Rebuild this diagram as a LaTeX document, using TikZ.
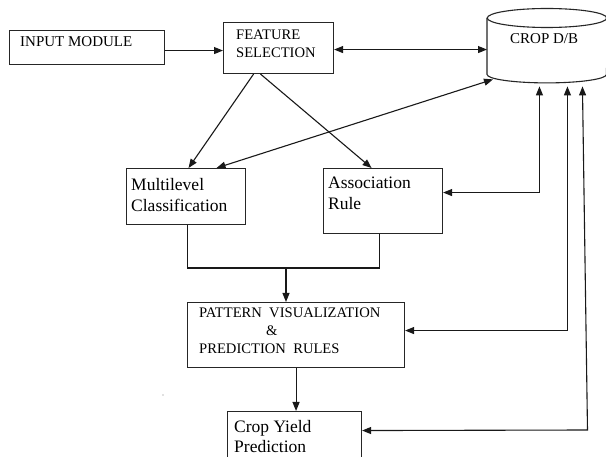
\documentclass[tikz,border=0pt]{standalone}
\usepackage{fontspec}
\setmainfont{Liberation Serif}
\usetikzlibrary{arrows.meta,calc}
\begin{document}
\begin{tikzpicture}[x=1pt,y=1pt,
  box/.style={draw=black!85,line width=1.1pt,inner sep=0pt,anchor=north west},
  lbl/.style={inner sep=0pt,anchor=base west},
  capsA/.style={lbl,font=\rmfamily\fontsize{14.6}{17}\selectfont},
  mixA/.style={lbl,font=\rmfamily\fontsize{17.5}{21}\selectfont},
  conn/.style={draw=black!90,line width=1.1pt},
  arr/.style={conn,-{Triangle[length=9pt,width=7pt]}},
  darr/.style={conn,{Triangle[length=9pt,width=7pt]}-{Triangle[length=9pt,width=7pt]}}
]
\useasboundingbox (0,0) rectangle (606,-457);
\clip (0,0) rectangle (606,-457);
\fill[white] (0,0) rectangle (606,-457);

% boxes
\node[box,minimum width=155pt,minimum height=34pt] (input) at (8.5,-30) {};
\node[box,minimum width=110pt,minimum height=51pt] (feature) at (223,-22) {};
\node[box,minimum width=119pt,minimum height=56pt] (multi) at (126,-168) {};
\node[box,minimum width=119pt,minimum height=65pt] (assoc) at (323,-168) {};
\node[box,minimum width=217pt,minimum height=65pt] (pattern) at (187,-302) {};
\node[box,minimum width=134pt,minimum height=60pt] (yield) at (227,-411) {};

% database cylinder
\node[draw=none,inner sep=0pt,minimum width=119.5pt,minimum height=56pt,anchor=north west] (db) at (487,-18) {};
\draw[draw=black!85,line width=1.1pt,fill=white] (db.north west) -- (db.south west)
  arc (180:360:59.75 and 8.5) -- (db.north east);
\draw[draw=black!85,line width=1.1pt] (db.north) ellipse (59.75 and 9.5);

% texts
\node[lbl,font=\rmfamily\fontsize{15}{18}\selectfont] (tinput) at (20,-47) {INPUT MODULE};
\node[capsA] (tfeat1) at (236,-40) {FEATURE};
\node[capsA] (tfeat2) at (236,-58) {SELECTION};
\node[lbl,font=\rmfamily\fontsize{15}{18}\selectfont] (tdb) at (510,-44) {CROP D/B};
\node[mixA] (tmulti1) at (131,-191) {Multilevel};
\node[mixA] (tmulti2) at (131,-212) {Classification};
\node[mixA] (tassoc1) at (328,-189) {Association};
\node[mixA] (tassoc2) at (328,-210) {Rule};
\node[capsA] (tpat1) at (199,-318) {PATTERN\ \ VISUALIZATION};
\node[capsA] (tpat2) at (266,-336) {\&};
\node[capsA] (tpat3) at (199,-354) {PREDICTION\ \ RULES};
\node[mixA] (tyield1) at (234,-432) {Crop Yield};
\node[mixA] (tyield2) at (234,-453) {Prediction};
\fill[black!50] (163,-395) circle (0.7);

% connectors
\draw[arr] ([yshift=-3pt]input.east) -- ([yshift=-3pt]input.east -| feature.west);
\draw[darr] ([yshift=-1.5pt]feature.east) -- ([yshift=-1.5pt]feature.east -| db.west);
\draw[arr] ([xshift=-25pt]feature.south) -- ([xshift=2.5pt]multi.north);
\draw[arr] ([xshift=-18pt]feature.south) -- ([xshift=-11.5pt]assoc.north);
\draw[darr] ([xshift=6pt,yshift=-5pt]db.south west) -- ([xshift=30.5pt]multi.north);

\coordinate (m) at (286,-268);
\draw[conn] ([xshift=1.5pt]multi.south) |- (m) -| ([xshift=-3.5pt]assoc.south);
\draw[arr] (m) -- (m |- pattern.north);
\draw[arr] (pattern.south) -- (pattern.south |- yield.north);

\draw[darr] ([yshift=8.5pt]assoc.east) -| ([xshift=-7.5pt,yshift=-12pt]db.south);
\draw[darr] ([yshift=4.5pt]pattern.east) -| ([xshift=20.5pt,yshift=-12pt]db.south);
\coordinate (c3) at (587.5,-430);
\draw[darr] ([yshift=11pt]yield.east) -- (c3) -- ([xshift=35.5pt,yshift=-12pt]db.south);
\end{tikzpicture}
\end{document}
